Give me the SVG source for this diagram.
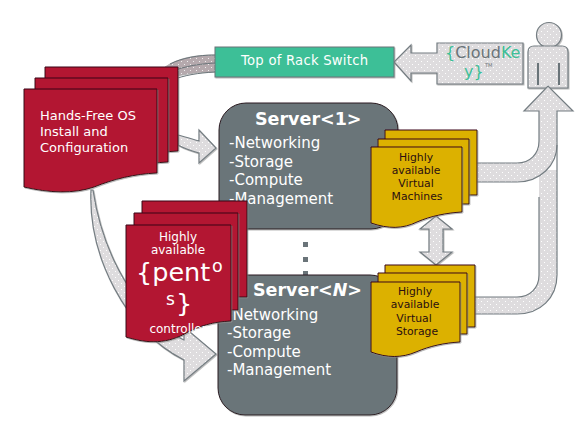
<svg xmlns="http://www.w3.org/2000/svg" width="586" height="429" viewBox="0 0 586 429">
<style>
text{font-family:"DejaVu Sans",sans-serif}
.arrow{fill:url(#dots);stroke:#747d82;stroke-width:1.2;filter:url(#sh)}
.fillonly{fill:url(#dots);stroke:none}
.edge{fill:none;stroke:#747d82;stroke-width:1.2}
.red{fill:#b31532;stroke:#3a0a14;stroke-width:1;filter:url(#sh)}
.yel{fill:#dcb106;stroke:#3a0a14;stroke-width:1;filter:url(#sh)}
.srv{fill:#6a7479;stroke:#2a1a20;stroke-width:1;filter:url(#sh)}
.rt{fill:#fff;font-size:13px}
.st{fill:#fff;font-size:15px}
.sh{fill:#fff;font-size:17.500px;font-weight:bold}
.yt{fill:#2b0f10;font-size:10.800px;text-anchor:middle}
.wt{fill:#fff;font-size:12px;text-anchor:middle}
.big{fill:#fff;font-size:25.500px}
.tl{fill:#3dbf97}
.gy{fill:#6a7479}
</style>
<defs>
<pattern id="dots" width="6" height="6" patternUnits="userSpaceOnUse"><rect width="6" height="6" fill="#dedcde"/><rect x="1" y="1" width="1" height="1" fill="#fff"/><rect x="4" y="4" width="1" height="1" fill="#fff"/></pattern>
<pattern id="dots2" width="6" height="6" patternUnits="userSpaceOnUse"><rect width="6" height="6" fill="#b5a9ad"/><rect x="1" y="1" width="1" height="1" fill="#eee"/><rect x="4" y="4" width="1" height="1" fill="#eee"/></pattern>
<filter id="sh" x="-10%" y="-10%" width="120%" height="120%"><feDropShadow dx="0.8" dy="1" stdDeviation="0.5" flood-color="#888" flood-opacity="0.6"/></filter>
<path id="rd1" d="M0 0H133V84C110 85 90 90 70 98C50 105 25 104 0 98Z"/>
</defs>

<g id="user">
<circle cx="549" cy="35" r="12.500" class="arrow"/>
<path class="arrow" d="M534 46H562Q568 46 568 52V88H528V52Q528 46 534 46Z"/>
<path d="M538 63V85M559 63V85" stroke="#6a7479" stroke-width="2" fill="none"/>
</g>

<g id="connectors">
<path id="arc-switch-doc" d="M215 55C195 55 178 58 165 67V80C178 75 195 72 215 72Z" fill="url(#dots2)" stroke="#aaa" stroke-width="0.800"/>
<path d="M165 74C178 68 195 64 215 63" fill="none" stroke="#6a7479" stroke-width="1"/>
<path d="M170 64C182 58 198 55 215 55M172 80C185 75 198 73 215 72" fill="none" stroke="#6a7479" stroke-width="1"/>
<path id="arrow-doc-server1" class="arrow" d="M178 135C186 137 192 139 199 141V130L216 148L199 163V153C192 151 185 149 178 145Z"/>
<path id="arrow-doc-serverN" class="arrow" d="M91 190C88 255 125 330 184 360V381L216 354L184 327V340C150 325 105 270 93 190Z"/>
<path id="arrow-cloudkey-switch" class="arrow" d="M437 43H523V84H437V73H411V81L394 62L411 45V53H437Z"/>
<g id="arrow-to-user">
<path class="fillonly" d="M477 163H517C530 163 539 154 539 141V111H524L548 86L573 111H557V145C557 165 540 182 517 182H477Z"/>
<path class="fillonly" d="M475 297H517C530 297 539 288 539 275V170H557V275C557 298 540 314 517 314H475Z"/>
<path class="edge" d="M475 297H517C530 297 539 288 539 275V197"/>
<path class="edge" d="M475 314H517C540 314 557 298 557 275V111H573L548 86L524 111H539V141C539 154 530 163 517 163H477"/>
<path class="edge" d="M477 182H517C540 182 557 165 557 145"/>
</g>
<path id="arrow-vm-storage" class="arrow" d="M436 216L452 229H443V252H452L436 265L420 252H429V229H420Z"/>
</g>

<g id="switch">
<rect x="215" y="47" width="179" height="30" fill="#3dbf97" stroke="#6a7479" stroke-width="1" filter="url(#sh)"/>
<text x="241" y="65" fill="#fff" font-size="13.200" textLength="127">Top of Rack Switch</text>
</g>

<g id="cloudkey">
<text x="445" y="58" font-size="16"><tspan class="tl">{</tspan><tspan class="gy">Cloud</tspan><tspan class="tl">Ke</tspan></text>
<text x="464" y="77" font-size="16" class="tl">y}</text>
<text x="485" y="66.500" font-size="5" class="gy">TM</text>
</g>

<g id="server-1">
<rect x="219" y="103" width="179" height="126" rx="27" class="srv"/>
<text x="255" y="125" class="sh">Server&lt;1&gt;</text>
<text x="229" y="148" class="st">-Networking</text>
<text x="229" y="167" class="st">-Storage</text>
<text x="229" y="185" class="st">-Compute</text>
<text x="229" y="204" class="st">-Management</text>
</g>

<g id="ellipsis" fill="#6a7479">
<rect x="303" y="242" width="5" height="5"/>
<rect x="303" y="257" width="5" height="5"/>
<rect x="303" y="271" width="5" height="5"/>
</g>

<g id="server-n">
<rect x="218" y="275" width="179" height="140" rx="27" class="srv"/>
<text x="253" y="296" class="sh">Server&lt;<tspan font-style="italic">N</tspan>&gt;</text>
<text x="227" y="320" class="st">-Networking</text>
<text x="227" y="338" class="st">-Storage</text>
<text x="227" y="357" class="st">-Compute</text>
<text x="227" y="375" class="st">-Management</text>
</g>

<g id="os-install">
<use href="#rd1" class="red" x="45" y="67"/>
<use href="#rd1" class="red" x="35" y="78"/>
<use href="#rd1" class="red" x="24" y="89"/>
<text x="40" y="120" class="rt">Hands-Free OS</text>
<text x="40" y="136" class="rt">Install and</text>
<text x="40" y="152" class="rt">Configuration</text>
</g>

<g id="pentos-controller">
<path class="red" d="M142 201H247V297H231V321H142Z"/>
<path class="red" d="M134 213H238V310H231V321H134Z"/>
<path class="red" d="M126 225H231V321C212 322 200 326 188 332C168 344 148 344 126 337Z"/>
<text x="178" y="241" class="wt">Highly</text>
<text x="178" y="254" class="wt">available</text>
<text x="136" y="281" class="big">{pent</text>
<text x="212" y="272" fill="#fff" font-size="17.500">o</text>
<text x="166" y="305" fill="#fff" font-size="17">s</text>
<text x="176" y="312" class="big">}</text>
<text x="178" y="333" class="wt">controller</text>
</g>

<g id="virtual-machines">
<path class="yel" d="M385 130H477V195H385Z"/>
<path class="yel" d="M378 139H469V204H378Z"/>
<path class="yel" d="M371 147H462V212C446 213 431 216 417 222C403 229 388 229 371 223Z"/>
<text x="416" y="161" class="yt">Highly</text>
<text x="416" y="174" class="yt">available</text>
<text x="416" y="187" class="yt">Virtual</text>
<text x="417" y="200" class="yt">Machines</text>
</g>

<g id="virtual-storage">
<path class="yel" d="M385 265H475V327H385Z"/>
<path class="yel" d="M378 273H467V334H378Z"/>
<path class="yel" d="M371 282H460V342C444 343 430 346 416 352C402 358 387 358 371 352Z"/>
<text x="415" y="295" class="yt">Highly</text>
<text x="415" y="308" class="yt">available</text>
<text x="414" y="321.500" class="yt">Virtual</text>
<text x="417" y="335" class="yt">Storage</text>
</g>
</svg>
